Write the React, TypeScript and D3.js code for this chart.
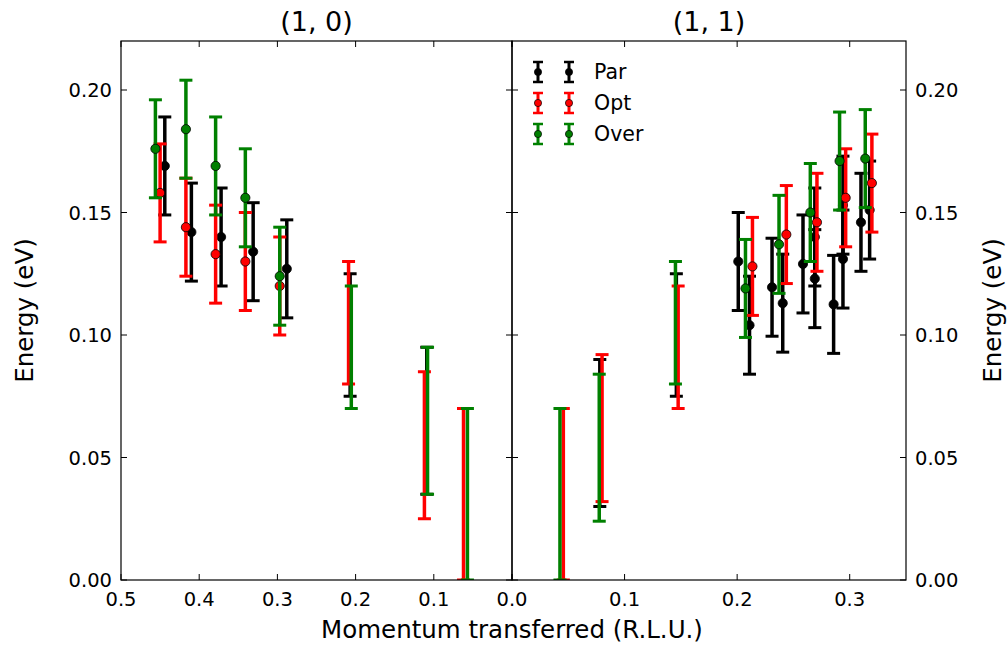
import React from "react";
import * as d3 from "d3";

// ---- axis ticks ----
const yTicks = [0, 0.05, 0.1, 0.15, 0.2];
const leftXTicks = [0.5, 0.4, 0.3, 0.2, 0.1, 0.0];
const rightXTicks = [0.0, 0.1, 0.2, 0.3];
const rightXLabels = [0.1, 0.2, 0.3]; // 0.0 is labelled once, under the shared edge

// ---- series ----
const seriesNames = ["Par", "Opt", "Over"];
const seriesColors = ["#000000", "#ff0000", "#008000"];
const errE = 0.02;

// (1, 0) direction: measured points (energy ± errE)
const parQ10 = [0.444, 0.41, 0.372, 0.331, 0.288];
const parE10 = [0.169, 0.142, 0.14, 0.134, 0.127];
const optQ10 = [0.45, 0.417, 0.379, 0.341, 0.297];
const optE10 = [0.158, 0.144, 0.133, 0.13, 0.12];
const overQ10 = [0.456, 0.417, 0.379, 0.341, 0.297];
const overE10 = [0.176, 0.184, 0.169, 0.156, 0.124];

// (1, 0) direction: energy ranges without a fitted point
const parRangeQ10 = [0.207, 0.109];
const parRangeLo10 = [0.075, 0.035];
const parRangeHi10 = [0.125, 0.095];
const optRangeQ10 = [0.209, 0.112, 0.062];
const optRangeLo10 = [0.08, 0.025, 0.0];
const optRangeHi10 = [0.13, 0.085, 0.07];
const overRangeQ10 = [0.2055, 0.108, 0.057];
const overRangeLo10 = [0.07, 0.035, 0.0];
const overRangeHi10 = [0.12, 0.095, 0.07];

// (1, 1) direction: measured points
const parQ11 = [0.201, 0.211, 0.231, 0.2405, 0.2585, 0.269, 0.269, 0.2857, 0.294, 0.294, 0.31, 0.3177];
const parE11 = [0.13, 0.104, 0.1195, 0.113, 0.129, 0.14, 0.123, 0.1125, 0.153, 0.131, 0.146, 0.151];
const optQ11 = [0.2136, 0.2437, 0.2709, 0.2964, 0.3197];
const optE11 = [0.128, 0.141, 0.146, 0.156, 0.162];
const overQ11 = [0.2074, 0.2372, 0.265, 0.291, 0.3138];
const overE11 = [0.119, 0.137, 0.15, 0.171, 0.172];

// (1, 1) direction: energy ranges
const parRangeQ11 = [0.078, 0.146];
const parRangeLo11 = [0.03, 0.075];
const parRangeHi11 = [0.09, 0.125];
const optRangeQ11 = [0.0456, 0.08, 0.1476];
const optRangeLo11 = [0.0, 0.032, 0.07];
const optRangeHi11 = [0.07, 0.092, 0.12];
const overRangeQ11 = [0.0426, 0.0775, 0.1452];
const overRangeLo11 = [0.0, 0.024, 0.08];
const overRangeHi11 = [0.07, 0.084, 0.13];

// ---- layout ----
const W = 1008;
const H = 646;
const plotTop = 41;
const plotBottom = 580;
const leftEdge = 121;
const midEdge = 512;
const rightEdge = 906;
const FONT = "DejaVu Sans, Verdana, sans-serif";
const tickLen = 6;

const y = d3.scaleLinear().domain([0, 0.22]).range([plotBottom, plotTop]);
const xL = d3.scaleLinear().domain([0.5, 0]).range([leftEdge, midEdge]);
const xR = d3.scaleLinear().domain([0, 0.35]).range([midEdge, rightEdge]);

const barWidth = 3.5;
const capHalf = 6.5;
const capWidth = 3;
const markerR = 4.6;

type Series = {
  q: number[];
  e: number[];
  rq: number[];
  rlo: number[];
  rhi: number[];
};

const left: Series[] = [
  { q: parQ10, e: parE10, rq: parRangeQ10, rlo: parRangeLo10, rhi: parRangeHi10 },
  { q: optQ10, e: optE10, rq: optRangeQ10, rlo: optRangeLo10, rhi: optRangeHi10 },
  { q: overQ10, e: overE10, rq: overRangeQ10, rlo: overRangeLo10, rhi: overRangeHi10 },
];
const right: Series[] = [
  { q: parQ11, e: parE11, rq: parRangeQ11, rlo: parRangeLo11, rhi: parRangeHi11 },
  { q: optQ11, e: optE11, rq: optRangeQ11, rlo: optRangeLo11, rhi: optRangeHi11 },
  { q: overQ11, e: overE11, rq: overRangeQ11, rlo: overRangeLo11, rhi: overRangeHi11 },
];

function ErrBar({ cx, y0, y1, color }: { cx: number; y0: number; y1: number; color: string }) {
  return (
    <g stroke={color}>
      <line x1={cx} x2={cx} y1={y0} y2={y1} strokeWidth={barWidth} />
      <line x1={cx - capHalf} x2={cx + capHalf} y1={y0} y2={y0} strokeWidth={capWidth} />
      <line x1={cx - capHalf} x2={cx + capHalf} y1={y1} y2={y1} strokeWidth={capWidth} />
    </g>
  );
}

function Panel({ data, x, clip }: { data: Series[]; x: d3.ScaleLinear<number, number>; clip: string }) {
  return (
    <g clipPath={`url(#${clip})`}>
      {data.map((s, si) => (
        <g key={si}>
          {s.rq.map((q, i) => (
            <ErrBar key={"r" + i} cx={x(q)} y0={y(s.rhi[i])} y1={y(s.rlo[i])} color={seriesColors[si]} />
          ))}
          {s.q.map((q, i) => (
            <ErrBar key={"p" + i} cx={x(q)} y0={y(s.e[i] + errE)} y1={y(s.e[i] - errE)} color={seriesColors[si]} />
          ))}
          {s.q.map((q, i) => (
            <circle
              key={"m" + i}
              cx={x(q)}
              cy={y(s.e[i])}
              r={markerR}
              fill={seriesColors[si]}
              stroke="#000"
              strokeWidth={0.8}
            />
          ))}
        </g>
      ))}
    </g>
  );
}

export default function App() {
  const tickFont = 19.5;
  const labelFont = 24.5;
  return (
    <svg
      width={W}
      height={H}
      viewBox={`0 0 ${W} ${H}`}
      style={{ position: "absolute", left: 0, top: 0, background: "#fff" }}
      fontFamily={FONT}
    >
      <defs>
        <clipPath id="clipL">
          <rect x={leftEdge} y={plotTop} width={midEdge - leftEdge} height={plotBottom - plotTop} />
        </clipPath>
        <clipPath id="clipR">
          <rect x={midEdge} y={plotTop} width={rightEdge - midEdge} height={plotBottom - plotTop} />
        </clipPath>
      </defs>
      <rect width={W} height={H} fill="#fff" />

      <Panel data={left} x={xL} clip="clipL" />
      <Panel data={right} x={xR} clip="clipR" />

      {/* frames */}
      <g fill="none" stroke="#000" strokeWidth={1.2}>
        <rect x={leftEdge} y={plotTop} width={midEdge - leftEdge} height={plotBottom - plotTop} />
        <rect x={midEdge} y={plotTop} width={rightEdge - midEdge} height={plotBottom - plotTop} />
      </g>

      {/* y ticks, inward on both sides of each panel */}
      <g stroke="#000" strokeWidth={1}>
        {yTicks.map((t) => (
          <g key={t}>
            <line x1={leftEdge} x2={leftEdge + tickLen} y1={y(t)} y2={y(t)} />
            <line x1={midEdge - tickLen} x2={midEdge} y1={y(t)} y2={y(t)} />
            <line x1={midEdge} x2={midEdge + tickLen} y1={y(t)} y2={y(t)} />
            <line x1={rightEdge - tickLen} x2={rightEdge} y1={y(t)} y2={y(t)} />
          </g>
        ))}
        {leftXTicks.map((t) => (
          <g key={"l" + t}>
            <line x1={xL(t)} x2={xL(t)} y1={plotBottom} y2={plotBottom - tickLen} />
            <line x1={xL(t)} x2={xL(t)} y1={plotTop} y2={plotTop + tickLen} />
          </g>
        ))}
        {rightXTicks.map((t) => (
          <g key={"r" + t}>
            <line x1={xR(t)} x2={xR(t)} y1={plotBottom} y2={plotBottom - tickLen} />
            <line x1={xR(t)} x2={xR(t)} y1={plotTop} y2={plotTop + tickLen} />
          </g>
        ))}
      </g>

      {/* tick labels */}
      <g fontSize={tickFont} fill="#000">
        {yTicks.map((t) => (
          <text key={"yl" + t} x={leftEdge - 9} y={y(t)} dy="0.36em" textAnchor="end">
            {t.toFixed(2)}
          </text>
        ))}
        {yTicks.map((t) => (
          <text key={"yr" + t} x={rightEdge + 9} y={y(t)} dy="0.36em" textAnchor="start">
            {t.toFixed(2)}
          </text>
        ))}
        {leftXTicks.map((t) => (
          <text key={"xl" + t} x={xL(t)} y={plotBottom + 26} textAnchor="middle">
            {t.toFixed(1)}
          </text>
        ))}
        {rightXLabels.map((t) => (
          <text key={"xr" + t} x={xR(t)} y={plotBottom + 26} textAnchor="middle">
            {t.toFixed(1)}
          </text>
        ))}
      </g>

      {/* titles and axis labels */}
      <g fill="#000">
        <text x={(leftEdge + midEdge) / 2} y={31} fontSize={27} textAnchor="middle">
          (1, 0)
        </text>
        <text x={(midEdge + rightEdge) / 2} y={31} fontSize={27} textAnchor="middle">
          (1, 1)
        </text>
        <text x={midEdge} y={638} fontSize={labelFont} textAnchor="middle">
          Momentum transferred (R.L.U.)
        </text>
        <text
          transform={`translate(33, ${(plotTop + plotBottom) / 2}) rotate(-90)`}
          fontSize={labelFont}
          textAnchor="middle"
        >
          Energy (eV)
        </text>
        <text
          transform={`translate(1001, ${(plotTop + plotBottom) / 2}) rotate(-90)`}
          fontSize={labelFont}
          textAnchor="middle"
        >
          Energy (eV)
        </text>
      </g>

      {/* legend */}
      <g>
        {seriesNames.map((name, i) => {
          const ly = 72 + i * 31;
          return (
            <g key={name}>
              {[538, 569].map((lx) => (
                <g key={lx} stroke={seriesColors[i]}>
                  <line x1={lx} x2={lx} y1={ly - 10} y2={ly + 10} strokeWidth={3} />
                  <line x1={lx - 5} x2={lx + 5} y1={ly - 10} y2={ly - 10} strokeWidth={2.5} />
                  <line x1={lx - 5} x2={lx + 5} y1={ly + 10} y2={ly + 10} strokeWidth={2.5} />
                  <circle cx={lx} cy={ly} r={3.6} fill={seriesColors[i]} stroke="#000" strokeWidth={0.7} />
                </g>
              ))}
              <text x={594} y={ly} dy="0.36em" fontSize={20.5} fill="#000">
                {name}
              </text>
            </g>
          );
        })}
      </g>
    </svg>
  );
}
